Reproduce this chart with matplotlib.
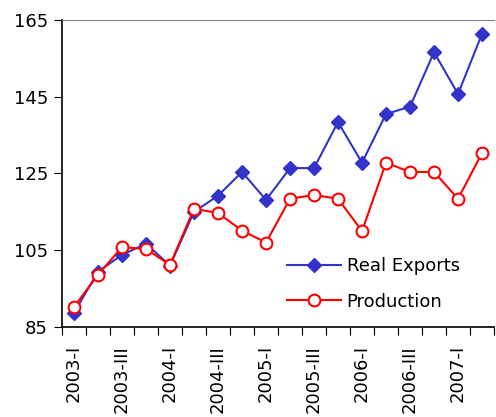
import matplotlib.pyplot as plt
import numpy as np

quarters = ['2003-I', '2003-II', '2003-III', '2003-IV',
            '2004-I', '2004-II', '2004-III', '2004-IV',
            '2005-I', '2005-II', '2005-III', '2005-IV',
            '2006-I', '2006-II', '2006-III', '2006-IV',
            '2007-I', '2007-II']
real_exports = [88.7, 99.4, 103.8, 106.7, 101.0, 115.0, 119.2, 125.4, 118.1,
                126.4, 126.4, 138.4, 127.8, 140.5, 142.4, 156.6, 145.7, 161.4]
production = [90.2, 98.6, 105.8, 105.3, 101.2, 115.8, 114.7, 110.1, 107.0,
              118.4, 119.4, 118.4, 110.0, 127.8, 125.4, 125.4, 118.4, 130.3]
y_ticks = [85, 105, 125, 145, 165]

plt.rcParams['font.family'] = ['DejaVu Sans']

fig = plt.figure(figsize=(4.96, 4.17), dpi=100)
ax = fig.add_axes([0.125, 0.216, 0.871, 0.736])

x = np.arange(len(quarters))
ax.plot(x, real_exports, color='#3333CC', lw=1.5, marker='D', ms=7.5,
        label='Real Exports')
ax.plot(x, production, color='#FF0000', lw=1.5, marker='o', ms=8.5,
        mfc='white', mec='#FF0000', mew=1.5, label='Production')

ax.set_xlim(-0.5, len(quarters) - 0.5)
ax.set_ylim(85, 165)
ax.set_yticks(y_ticks)
ax.tick_params(axis='y', labelsize=13, length=6, direction='out', pad=4)

# category boundaries get the tick marks, every other centre gets a label
ax.set_xticks(np.arange(-0.5, len(quarters), 1.0))
ax.set_xticklabels([])
ax.tick_params(axis='x', which='major', length=6, direction='out')
ax.set_xticks(x[::2], minor=True)
ax.set_xticklabels(quarters[::2], minor=True, rotation=90, fontsize=13)
ax.tick_params(axis='x', which='minor', length=0, pad=13)

ax.spines['right'].set_visible(False)
ax.spines['top'].set_color('#808080')
ax.spines['left'].set_linewidth(1.2)
ax.spines['bottom'].set_linewidth(1.2)

ax.legend(loc='center left', bbox_to_anchor=(0.521, 0.14), frameon=False,
          fontsize=13, handlelength=3.0, handletextpad=0.3,
          labelspacing=0.95, borderpad=0, borderaxespad=0)

fig.savefig('out.png', dpi=100)
